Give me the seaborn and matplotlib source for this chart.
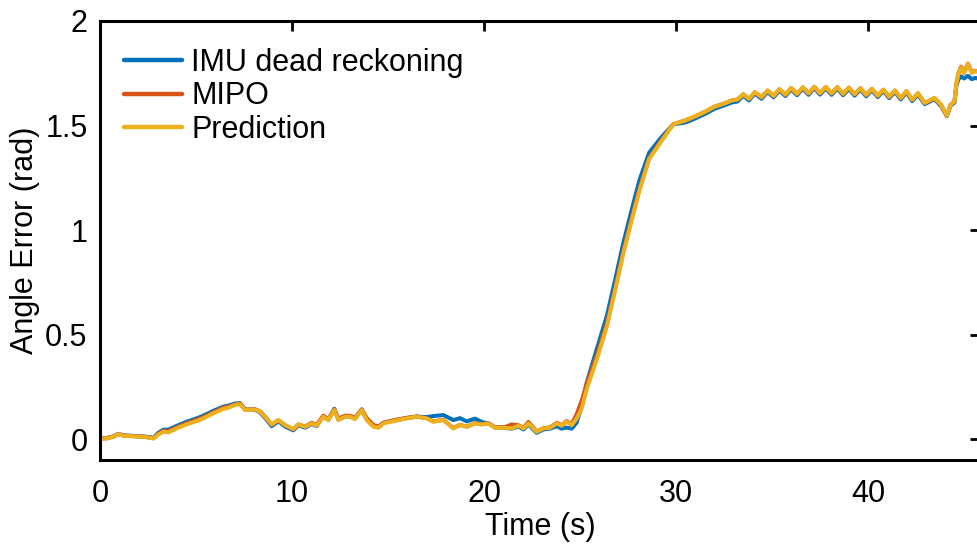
import matplotlib
matplotlib.use("Agg")
import matplotlib.pyplot as plt
import seaborn as sns
import pandas as pd

time_s = [0.0, 0.35, 0.69, 0.95, 1.22, 1.74, 2.26, 2.78, 3.04, 3.3, 3.56, 3.99, 4.51, 5.03, 5.38, 5.9,
          6.42, 6.68, 7.03, 7.29, 7.55, 8.07, 8.33, 8.59, 8.94, 9.29, 9.64, 10.07, 10.33, 10.68, 11.02,
          11.28, 11.63, 11.89, 12.2, 12.41, 12.76, 13.02, 13.28, 13.63, 13.89, 14.24, 14.5, 14.76, 15.28,
          15.97, 16.5, 17.0, 17.36, 17.88, 18.4, 18.75, 19.1, 19.53, 19.88, 20.23, 20.57, 21.1, 21.44,
          21.8, 22.05, 22.31, 22.74, 23.09, 23.44, 23.79, 24.04, 24.3, 24.57, 24.83, 25.09, 25.35, 25.87,
          26.4, 26.8, 27.26, 27.7, 28.1, 28.6, 29.2, 29.85, 30.5, 30.9, 31.5, 32.0, 32.5, 32.9, 33.2,
          33.5, 33.8, 34.1, 34.45, 34.77, 35.08, 35.38, 35.7, 35.99, 36.3, 36.6, 36.9, 37.2, 37.5, 37.8,
          38.1, 38.4, 38.7, 39.0, 39.3, 39.6, 39.9, 40.2, 40.5, 40.8, 41.1, 41.4, 41.7, 42.0, 42.3, 42.6,
          42.95, 43.45, 43.8, 44.1, 44.3, 44.5, 44.6, 44.7, 44.85, 45.0, 45.2, 45.4, 45.6, 45.8]

prediction = [0.003, 0.003, 0.011, 0.024, 0.016, 0.013, 0.011, 0.003, 0.022, 0.035, 0.032, 0.051, 0.070,
              0.086, 0.099, 0.123, 0.144, 0.150, 0.163, 0.167, 0.139, 0.141, 0.131, 0.107, 0.070, 0.091,
              0.067, 0.048, 0.070, 0.059, 0.075, 0.064, 0.107, 0.091, 0.139, 0.091, 0.107, 0.107, 0.096,
              0.139, 0.091, 0.059, 0.054, 0.075, 0.086, 0.099, 0.107, 0.099, 0.083, 0.091, 0.051, 0.067,
              0.059, 0.075, 0.070, 0.075, 0.054, 0.054, 0.051, 0.064, 0.051, 0.075, 0.035, 0.051, 0.054,
              0.075, 0.064, 0.083, 0.067, 0.099, 0.147, 0.240, 0.380, 0.540, 0.700, 0.890, 1.050, 1.190,
              1.340, 1.420, 1.506, 1.525, 1.540, 1.565, 1.590, 1.605, 1.620, 1.625,
              1.650, 1.628, 1.660, 1.636, 1.668, 1.642, 1.674, 1.648, 1.680, 1.652, 1.683, 1.654, 1.686,
              1.655, 1.685, 1.654, 1.684, 1.652, 1.682, 1.650, 1.679, 1.647, 1.676, 1.643, 1.672, 1.638,
              1.668, 1.632, 1.665, 1.624, 1.655, 1.608, 1.632, 1.600, 1.548, 1.600, 1.615, 1.700, 1.745,
              1.778, 1.750, 1.794, 1.752, 1.760, 1.755]

imu = [0.005, 0.005, 0.013, 0.025, 0.018, 0.015, 0.013, 0.006, 0.030, 0.045, 0.045, 0.063, 0.083, 0.099,
       0.112, 0.135, 0.155, 0.160, 0.170, 0.172, 0.142, 0.140, 0.128, 0.102, 0.062, 0.085, 0.060, 0.042,
       0.066, 0.055, 0.072, 0.062, 0.110, 0.092, 0.145, 0.095, 0.108, 0.108, 0.098, 0.142, 0.095, 0.062,
       0.058, 0.078, 0.088, 0.100, 0.108, 0.105, 0.110, 0.115, 0.091, 0.100, 0.085, 0.098, 0.082, 0.075,
       0.056, 0.053, 0.050, 0.060, 0.046, 0.070, 0.030, 0.046, 0.050, 0.062, 0.050, 0.055, 0.050, 0.080,
       0.160, 0.270, 0.430, 0.590, 0.750, 0.940, 1.100, 1.240, 1.370, 1.440, 1.505, 1.515, 1.530, 1.555,
       1.580, 1.596, 1.610, 1.615,
       1.643, 1.620, 1.653, 1.628, 1.661, 1.635, 1.667, 1.641, 1.673, 1.645, 1.676, 1.647, 1.679, 1.648,
       1.678, 1.647, 1.677, 1.645, 1.675, 1.643, 1.672, 1.640, 1.669, 1.636, 1.665, 1.631, 1.661, 1.625,
       1.658, 1.617, 1.648, 1.602, 1.626, 1.594, 1.545, 1.596, 1.610, 1.690, 1.720, 1.735, 1.725, 1.738,
       1.722, 1.728, 1.722]

mipo = [0.003, 0.004, 0.012, 0.024, 0.017, 0.014, 0.012, 0.004, 0.025, 0.040, 0.038, 0.056, 0.076, 0.092,
        0.105, 0.128, 0.150, 0.155, 0.166, 0.170, 0.141, 0.143, 0.133, 0.108, 0.068, 0.090, 0.066, 0.046,
        0.070, 0.060, 0.078, 0.068, 0.112, 0.095, 0.142, 0.098, 0.112, 0.112, 0.102, 0.142, 0.100, 0.068,
        0.060, 0.078, 0.090, 0.102, 0.108, 0.100, 0.085, 0.092, 0.053, 0.068, 0.060, 0.076, 0.071, 0.076,
        0.056, 0.058, 0.070, 0.066, 0.054, 0.082, 0.036, 0.052, 0.056, 0.078, 0.066, 0.086, 0.072, 0.120,
        0.185, 0.265, 0.400, 0.555, 0.710, 0.900, 1.060, 1.200, 1.345, 1.425, 1.506, 1.525, 1.540, 1.565,
        1.590, 1.605, 1.620, 1.624,
        1.649, 1.627, 1.659, 1.635, 1.667, 1.641, 1.673, 1.647, 1.679, 1.651, 1.682, 1.653, 1.685, 1.654,
        1.684, 1.653, 1.683, 1.651, 1.681, 1.649, 1.678, 1.646, 1.675, 1.642, 1.671, 1.637, 1.667, 1.631,
        1.664, 1.623, 1.654, 1.607, 1.631, 1.599, 1.547, 1.599, 1.614, 1.700, 1.748, 1.782, 1.752, 1.796,
        1.755, 1.762, 1.757]

series_names = ["IMU dead reckoning", "MIPO", "Prediction"]
series_colors = ["#0072BD", "#D95319", "#EDB120"]
x_ticks = [0, 10, 20, 30, 40]
y_ticks = [0, 0.5, 1, 1.5, 2]
y_tick_labels = ["0", "0.5", "1", "1.5", "2"]

frames = []
for name, vals in zip(series_names, [imu, mipo, prediction]):
    frames.append(pd.DataFrame({"Time": time_s, "Error": vals, "Method": name}))
df = pd.concat(frames, ignore_index=True)

sns.set_theme(style="white")
plt.rcParams["font.family"] = ["Liberation Sans", "DejaVu Sans"]
plt.rcParams["text.color"] = "black"
plt.rcParams["axes.labelcolor"] = "black"
plt.rcParams["xtick.color"] = "black"
plt.rcParams["ytick.color"] = "black"

FS = 22

fig = plt.figure(figsize=(9.77, 5.46), dpi=100)
ax = fig.add_axes([100 / 977, 1 - 460 / 546, 880 / 977, 439 / 546])

sns.lineplot(data=df, x="Time", y="Error", hue="Method", hue_order=series_names,
             palette=series_colors, linewidth=2.9, ax=ax, legend=True, sort=False)

ax.set_xlim(0, 45.83)
ax.set_ylim(-0.1, 2.0)
ax.set_xticks(x_ticks)
ax.set_xticklabels([str(v) for v in x_ticks])
ax.set_yticks(y_ticks)
ax.set_yticklabels(y_tick_labels)
ax.set_xlabel("Time (s)", fontsize=FS, labelpad=2)
ax.set_ylabel("Angle Error (rad)", fontsize=FS, labelpad=4)
ax.tick_params(axis="x", which="both", direction="in", length=7, width=2,
               labelsize=FS, top=True, pad=14)
ax.tick_params(axis="y", which="both", direction="in", length=7, width=2,
               labelsize=FS, right=True, pad=9)
for sp in ax.spines.values():
    sp.set_linewidth(2.2)
    sp.set_color("black")
    sp.set_visible(True)

leg = ax.legend(loc="upper left", frameon=False, fontsize=FS, handlelength=1.9,
                handletextpad=0.3, labelspacing=0.12, borderaxespad=0.3,
                bbox_to_anchor=(0.003, 0.988))
for line in leg.get_lines():
    line.set_linewidth(3.2)

fig.savefig("out.png", dpi=100)
